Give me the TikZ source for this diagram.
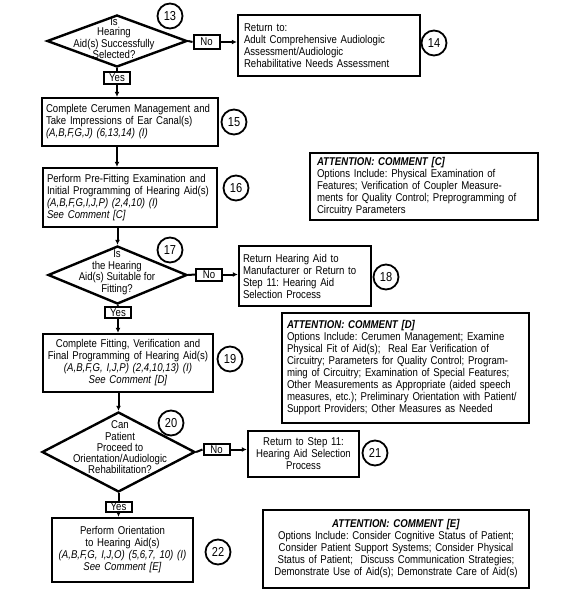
\documentclass[tikz,border=0pt]{standalone}
\usepackage{fontspec}
\setmainfont{Liberation Sans}[FakeStretch=0.85]
\usetikzlibrary{shapes.geometric,arrows.meta}
\frenchspacing
\begin{document}
\begin{tikzpicture}[x=1pt,y=-1pt,
  every node/.style={font=\fontsize{11.3}{12}\selectfont, inner sep=0pt},
  box/.style={draw, line width=2.4pt, inner sep=0pt},
  dia/.style={draw, diamond, line width=2.4pt, inner sep=0pt},
  dtext/.style={align=center, font=\fontsize{11.3}{11}\selectfont},
  tag/.style={draw, line width=2pt, minimum width=26pt, minimum height=12pt, font=\fontsize{11.3}{10}\selectfont},
  num/.style={draw, circle, line width=1.8pt, minimum size=25pt, font=\fontsize{13}{13}\selectfont},
  conn/.style={line width=2pt},
  arr/.style={line width=2pt, -{Latex[length=5pt,width=5pt]}}
]
\useasboundingbox (0,0) rectangle (576,592);

% step 13
\node[dia, minimum width=140pt, minimum height=52pt] (d13) at (117,41) {};
\node[dtext, font=\fontsize{11.3}{10.5}\selectfont] (d13t) at (114,38) {Is\\Hearing\\Aid(s) Successfully\\Selected?};
\node[num] (c13) at (170,16) {13};
\node[tag, minimum height=14pt] (no13) at (206.5,42) {No};
\node[box, minimum width=182pt, minimum height=61pt, text width=170pt, align=left] (b14) at (329,45.5)
  {Return to:\\Adult Comprehensive Audiologic\\Assessment/Audiologic\\Rehabilitative Needs Assessment};
\node[num] (c14) at (434,43) {14};
\node[tag] (yes13) at (117,78) {Yes};

% step 15
\node[box, minimum width=176pt, minimum height=48pt, text width=168pt, align=left] (b15) at (130,122)
  {Complete Cerumen Management and\\Take Impressions of Ear Canal(s)\\\textit{(A,B,F,G,J) (6,13,14) (I)}};
\node[num] (c15) at (234,122) {15};

% step 16
\node[box, minimum width=174pt, minimum height=59pt, text width=166pt, align=left] (b16) at (130,197.5)
  {Perform Pre-Fitting Examination and\\Initial Programming of Hearing Aid(s)\\\textit{(A,B,F,G,I,J,P) (2,4,10) (I)}\\\textit{See Comment [C]}};
\node[num] (c16) at (236,188) {16};

\node[box, minimum width=228pt, minimum height=67pt, text width=214pt, align=left] (cC) at (424,186.5)
  {\textbf{\textit{ATTENTION: COMMENT [C]}}\\Options Include: Physical Examination of\\Features; Verification of Coupler Measure-\\ments for Quality Control; Preprogramming of\\Circuitry Parameters};

% step 17
\node[dia, minimum width=139pt, minimum height=58pt] (d17) at (117.5,275) {};
\node[dtext, font=\fontsize{11.3}{11.5}\selectfont] (d17t) at (117,272.5) {Is\\the Hearing\\Aid(s) Suitable for\\Fitting?};
\node[num] (c17) at (170,250) {17};
\node[tag] (no17) at (209,274.5) {No};
\node[box, minimum width=132pt, minimum height=60pt, text width=124pt, align=left] (b18) at (305,276)
  {Return Hearing Aid to\\Manufacturer or Return to\\Step 11: Hearing Aid\\Selection Process};
\node[num] (c18) at (386,277) {18};
\node[tag, minimum height=11pt] (yes17) at (118,312.5) {Yes};

% step 19
\node[box, minimum width=170pt, minimum height=58pt, text width=166pt, align=center] (b19) at (128,363)
  {Complete Fitting, Verification and\\Final Programming of Hearing Aid(s)\\\textit{(A,B,F,G, I,J,P) (2,4,10,13) (I)}\\\textit{See Comment [D]}};
\node[num] (c19) at (230,359) {19};

\node[box, minimum width=247pt, minimum height=110pt, text width=237pt, align=left] (cD) at (405.5,368)
  {\textbf{\textit{ATTENTION: COMMENT [D]}}\\Options Include: Cerumen Management; Examine\\Physical Fit of Aid(s);\ \ Real Ear Verification of\\Circuitry; Parameters for Quality Control; Program-\\ming of Circuitry; Examination of Special Features;\\Other Measurements as Appropriate (aided speech\\measures, etc.); Preliminary Orientation with Patient/\\Support Providers; Other Measures as Needed};

% step 20
\node[dia, minimum width=153pt, minimum height=80pt] (d20) at (118.5,452) {};
\node[dtext, font=\fontsize{11.3}{11.3}\selectfont] (d20t) at (120,447.5) {Can\\Patient\\Proceed to\\Orientation/Audiologic\\Rehabilitation?};
\node[num] (c20) at (171,423) {20};
\node[tag, minimum height=11pt] (no20) at (216.5,449.5) {No};
\node[box, minimum width=111pt, minimum height=46pt, text width=107pt, align=center] (b21) at (303.5,454)
  {Return to Step 11:\\Hearing Aid Selection\\Process};
\node[num] (c21) at (375,453) {21};
\node[tag, minimum height=10pt] (yes20) at (118.5,507) {Yes};

% step 22
\node[box, minimum width=141pt, minimum height=64pt, text width=137pt, align=center] (b22) at (122.5,550)
  {Perform Orientation\\to Hearing Aid(s)\\\textit{(A,B,F,G, I,J,O) (5,6,7, 10) (I)}\\\textit{See Comment [E]}};
\node[num] (c22) at (218,552) {22};

\node[box, minimum width=266pt, minimum height=78pt, text width=260pt, align=center] (cE) at (396,549)
  {\textbf{\textit{ATTENTION: COMMENT [E]}}\\Options Include: Consider Cognitive Status of Patient;\\Consider Patient Support Systems; Consider Physical\\Status of Patient;\ \ Discuss Communication Strategies;\\Demonstrate Use of Aid(s); Demonstrate Care of Aid(s)};

% connectors
\draw[conn] (d13.east) -- (no13.west);
\draw[arr] (no13.east) -- (no13.east -| b14.west);
\draw[conn] (d13.south) -- (yes13.north);
\draw[arr] (yes13.south) -- (yes13.south |- b15.north);
\draw[arr] (b15.south -| yes13) -- (b16.north -| yes13);
\draw[arr] (b16.south -| d17) -- (d17.north);
\draw[conn] (d17.east) -- (no17.west);
\draw[arr] (no17.east) -- (no17.east -| b18.west);
\draw[conn] (d17.south) -- (yes17.north);
\draw[arr] (yes17.south) -- (yes17.south |- b19.north);
\draw[arr] (b19.south -| d20) -- (d20.north);
\draw[conn] (d20.east) -- (no20.west);
\draw[arr] (no20.east) -- (no20.east -| b21.west);
\draw[conn] (d20.south) -- (yes20.north);
\draw[arr] (yes20.south) -- (yes20.south |- b22.north);
\end{tikzpicture}
\end{document}
